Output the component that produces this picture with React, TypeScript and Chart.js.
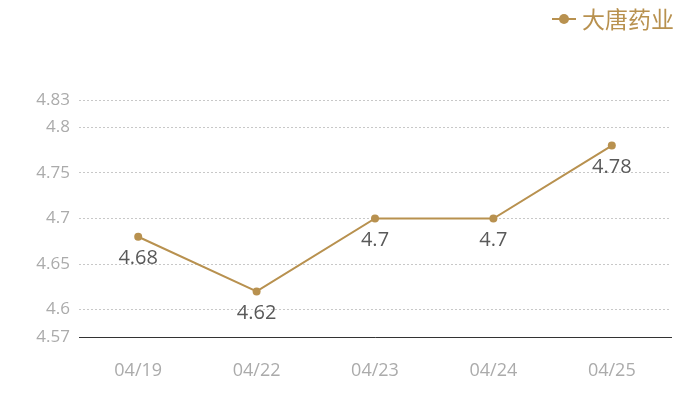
import React, { useEffect, useRef } from "react";
import { Chart, registerables } from "chart.js";

Chart.register(...registerables);

const categories = ["04/19", "04/22", "04/23", "04/24", "04/25"];
const seriesName = "大唐药业";
const values = [4.68, 4.62, 4.7, 4.7, 4.78];
const yTicks = [4.57, 4.6, 4.65, 4.7, 4.75, 4.8, 4.83];

const GOLD = "#B8914F";
const NUM_FONT = "'Open Sans', 'Noto Sans', sans-serif";
const CJK_FONT = "'Noto Sans CJK SC', 'Noto Sans', sans-serif";

const dataLabelPlugin = {
  id: "dataLabels",
  afterDatasetsDraw(chart: any) {
    const ctx = chart.ctx;
    const meta = chart.getDatasetMeta(0);
    const data = chart.data.datasets[0].data;
    ctx.save();
    ctx.font = `20px ${NUM_FONT}`;
    ctx.fillStyle = "#595959";
    ctx.textAlign = "center";
    ctx.textBaseline = "middle";
    meta.data.forEach((pt: any, i: number) => {
      ctx.fillText(String(data[i]), pt.x, pt.y + 22);
    });
    ctx.restore();
  },
};

const legendPlugin = {
  id: "customLegend",
  afterDraw(chart: any) {
    const ctx = chart.ctx;
    const label = chart.data.datasets[0].label;
    ctx.save();
    ctx.font = `23px ${CJK_FONT}`;
    const tw = ctx.measureText(label).width;
    const right = chart.width - 24;
    const textX = right - tw - 2;
    const cy = 19;
    ctx.strokeStyle = GOLD;
    ctx.lineWidth = 2;
    ctx.beginPath();
    ctx.moveTo(textX - 30, cy);
    ctx.lineTo(textX - 6, cy);
    ctx.stroke();
    ctx.fillStyle = GOLD;
    ctx.beginPath();
    ctx.arc(textX - 18, cy, 5, 0, Math.PI * 2);
    ctx.fill();
    ctx.textAlign = "left";
    ctx.textBaseline = "middle";
    ctx.fillText(label, textX, cy);
    ctx.restore();
  },
};

export default function App() {
  const ref = useRef<HTMLCanvasElement>(null);
  useEffect(() => {
    if (!ref.current) return;
    const chart = new Chart(ref.current, {
      type: "line",
      data: {
        labels: categories,
        datasets: [
          {
            label: seriesName,
            data: values,
            borderColor: GOLD,
            backgroundColor: GOLD,
            borderWidth: 2,
            pointRadius: 4,
            pointHoverRadius: 4,
            pointBackgroundColor: GOLD,
            pointBorderWidth: 0,
            tension: 0,
          },
        ],
      },
      options: {
        animation: false,
        responsive: true,
        maintainAspectRatio: false,
        layout: { padding: { top: 100, right: 29, bottom: 0, left: 0 } },
        plugins: {
          legend: { display: false },
          tooltip: { enabled: false },
        },
        scales: {
          x: {
            offset: true,
            grid: { display: false, drawTicks: false },
            border: { display: true, color: "#333333", width: 1 },
            ticks: {
              color: "#ababab",
              font: { family: NUM_FONT, size: 18 },
              padding: 23,
            },
            afterFit(scale: any) {
              scale.height = 63;
            },
          },
          y: {
            min: 4.57,
            max: 4.83,
            border: { display: false, dash: [2, 2] },
            grid: { color: "#c8c8c8", drawTicks: false, lineWidth: 1 },
            ticks: {
              color: "#ababab",
              font: { family: NUM_FONT, size: 17 },
              padding: 9,
              autoSkip: false,
              callback: (v: any) => String(Number(Number(v).toFixed(2))),
            },
            afterBuildTicks(scale: any) {
              scale.ticks = yTicks.map((v) => ({ value: v }));
            },
            afterFit(scale: any) {
              scale.width = 79;
            },
          },
        },
      },
      plugins: [dataLabelPlugin, legendPlugin],
    } as any);
    return () => chart.destroy();
  }, []);
  return (
    <div style={{ position: "absolute", left: 0, top: 0, width: 700, height: 400 }}>
      <canvas ref={ref} />
    </div>
  );
}
